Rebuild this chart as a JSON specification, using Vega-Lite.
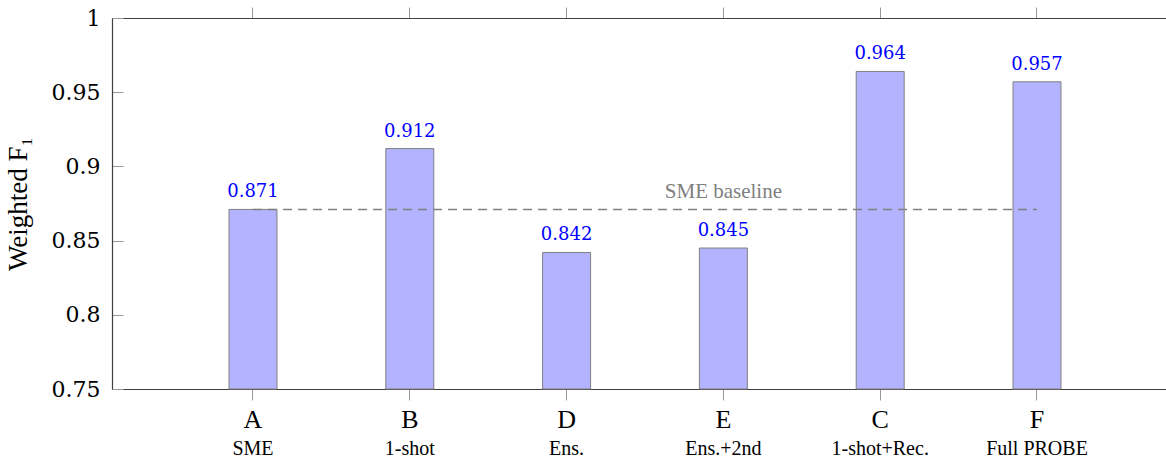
{
  "$schema": "https://vega.github.io/schema/vega-lite/v6.json",
  "width": 1054,
  "height": 371,
  "autosize": {"type": "none"},
  "padding": {"left": 112, "top": 18, "right": 0, "bottom": 69},
  "background": "white",
  "config": {"view": {"stroke": null}, "font": "Liberation Serif"},
  "datasets": {
    "bars": [
      {"code": "A", "method": "SME", "f1": 0.871},
      {"code": "B", "method": "1-shot", "f1": 0.912},
      {"code": "D", "method": "Ens.", "f1": 0.842},
      {"code": "E", "method": "Ens.+2nd", "f1": 0.845},
      {"code": "C", "method": "1-shot+Rec.", "f1": 0.964},
      {"code": "F", "method": "Full PROBE", "f1": 0.957}
    ],
    "baseline": [
      {"from": "A", "to": "F", "at": "E", "f1": 0.871, "label": "SME baseline"}
    ]
  },
  "resolve": {"axis": {"x": "independent"}},
  "layer": [
    {
      "data": {"name": "bars"},
      "mark": {"type": "bar", "fill": "#b3b3ff", "stroke": "#808080", "strokeWidth": 1},
      "encoding": {
        "x": {
          "field": "code", "type": "nominal",
          "scale": {"domain": ["A", "B", "D", "E", "C", "F"], "paddingInner": 0.694, "paddingOuter": 0.708, "align": 0.527},
          "axis": {"orient": "bottom", "labels": false, "title": null, "tickSize": 11, "tickColor": "#999999", "domainColor": "#404040", "domainWidth": 1.2}
        },
        "y": {
          "field": "f1", "type": "quantitative",
          "scale": {"domain": [0.75, 1], "nice": false, "zero": false},
          "axis": {
            "orient": "left", "values": [0.75, 0.8, 0.85, 0.9, 0.95, 1], "format": ".2~f",
            "grid": false, "tickSize": -11, "tickColor": "#999999", "domainColor": "#404040", "domainWidth": 1.2,
            "labelPadding": 23, "labelFontSize": 22, "labelColor": "black", "labelFont": "DejaVu Serif",
            "title": "Weighted F₁", "titleFontSize": 27, "titleFontWeight": "normal", "titleColor": "black",
            "titleFont": "Liberation Serif", "titlePadding": 19
          }
        },
        "y2": {"datum": 0.75}
      }
    },
    {
      "data": {"name": "bars"},
      "mark": {"type": "text", "color": "#0000ff", "fontSize": 18, "font": "DejaVu Serif", "baseline": "alphabetic", "dy": -12},
      "encoding": {
        "x": {
          "field": "code", "type": "nominal",
          "axis": {"orient": "top", "labels": false, "title": null, "tickSize": 11, "tickColor": "#999999", "domainColor": "#404040", "domainWidth": 1.2}
        },
        "y": {"field": "f1", "type": "quantitative"},
        "text": {"field": "f1", "type": "quantitative", "format": ".3f"}
      }
    },
    {
      "data": {"name": "bars"},
      "mark": {"type": "text", "color": "black", "fontSize": 26, "baseline": "alphabetic", "dy": 39},
      "encoding": {
        "x": {"field": "code", "type": "nominal", "axis": null},
        "y": {"datum": 0.75},
        "text": {"field": "code"}
      }
    },
    {
      "data": {"name": "bars"},
      "mark": {"type": "text", "color": "black", "fontSize": 20, "baseline": "alphabetic", "dy": 66},
      "encoding": {
        "x": {"field": "code", "type": "nominal", "axis": null},
        "y": {"datum": 0.75},
        "text": {"field": "method"}
      }
    },
    {
      "data": {"name": "baseline"},
      "mark": {"type": "rule", "color": "#808080", "strokeWidth": 1.6, "strokeDash": [9, 6]},
      "encoding": {
        "x": {"field": "from", "type": "nominal", "bandPosition": 0.5, "axis": null},
        "x2": {"field": "to", "bandPosition": 0.5},
        "y": {"field": "f1", "type": "quantitative"}
      }
    },
    {
      "data": {"name": "baseline"},
      "mark": {"type": "text", "color": "#808080", "fontSize": 21, "baseline": "alphabetic", "dy": -11},
      "encoding": {
        "x": {"field": "at", "type": "nominal", "axis": null},
        "y": {"field": "f1", "type": "quantitative"},
        "text": {"field": "label"}
      }
    }
  ]
}
